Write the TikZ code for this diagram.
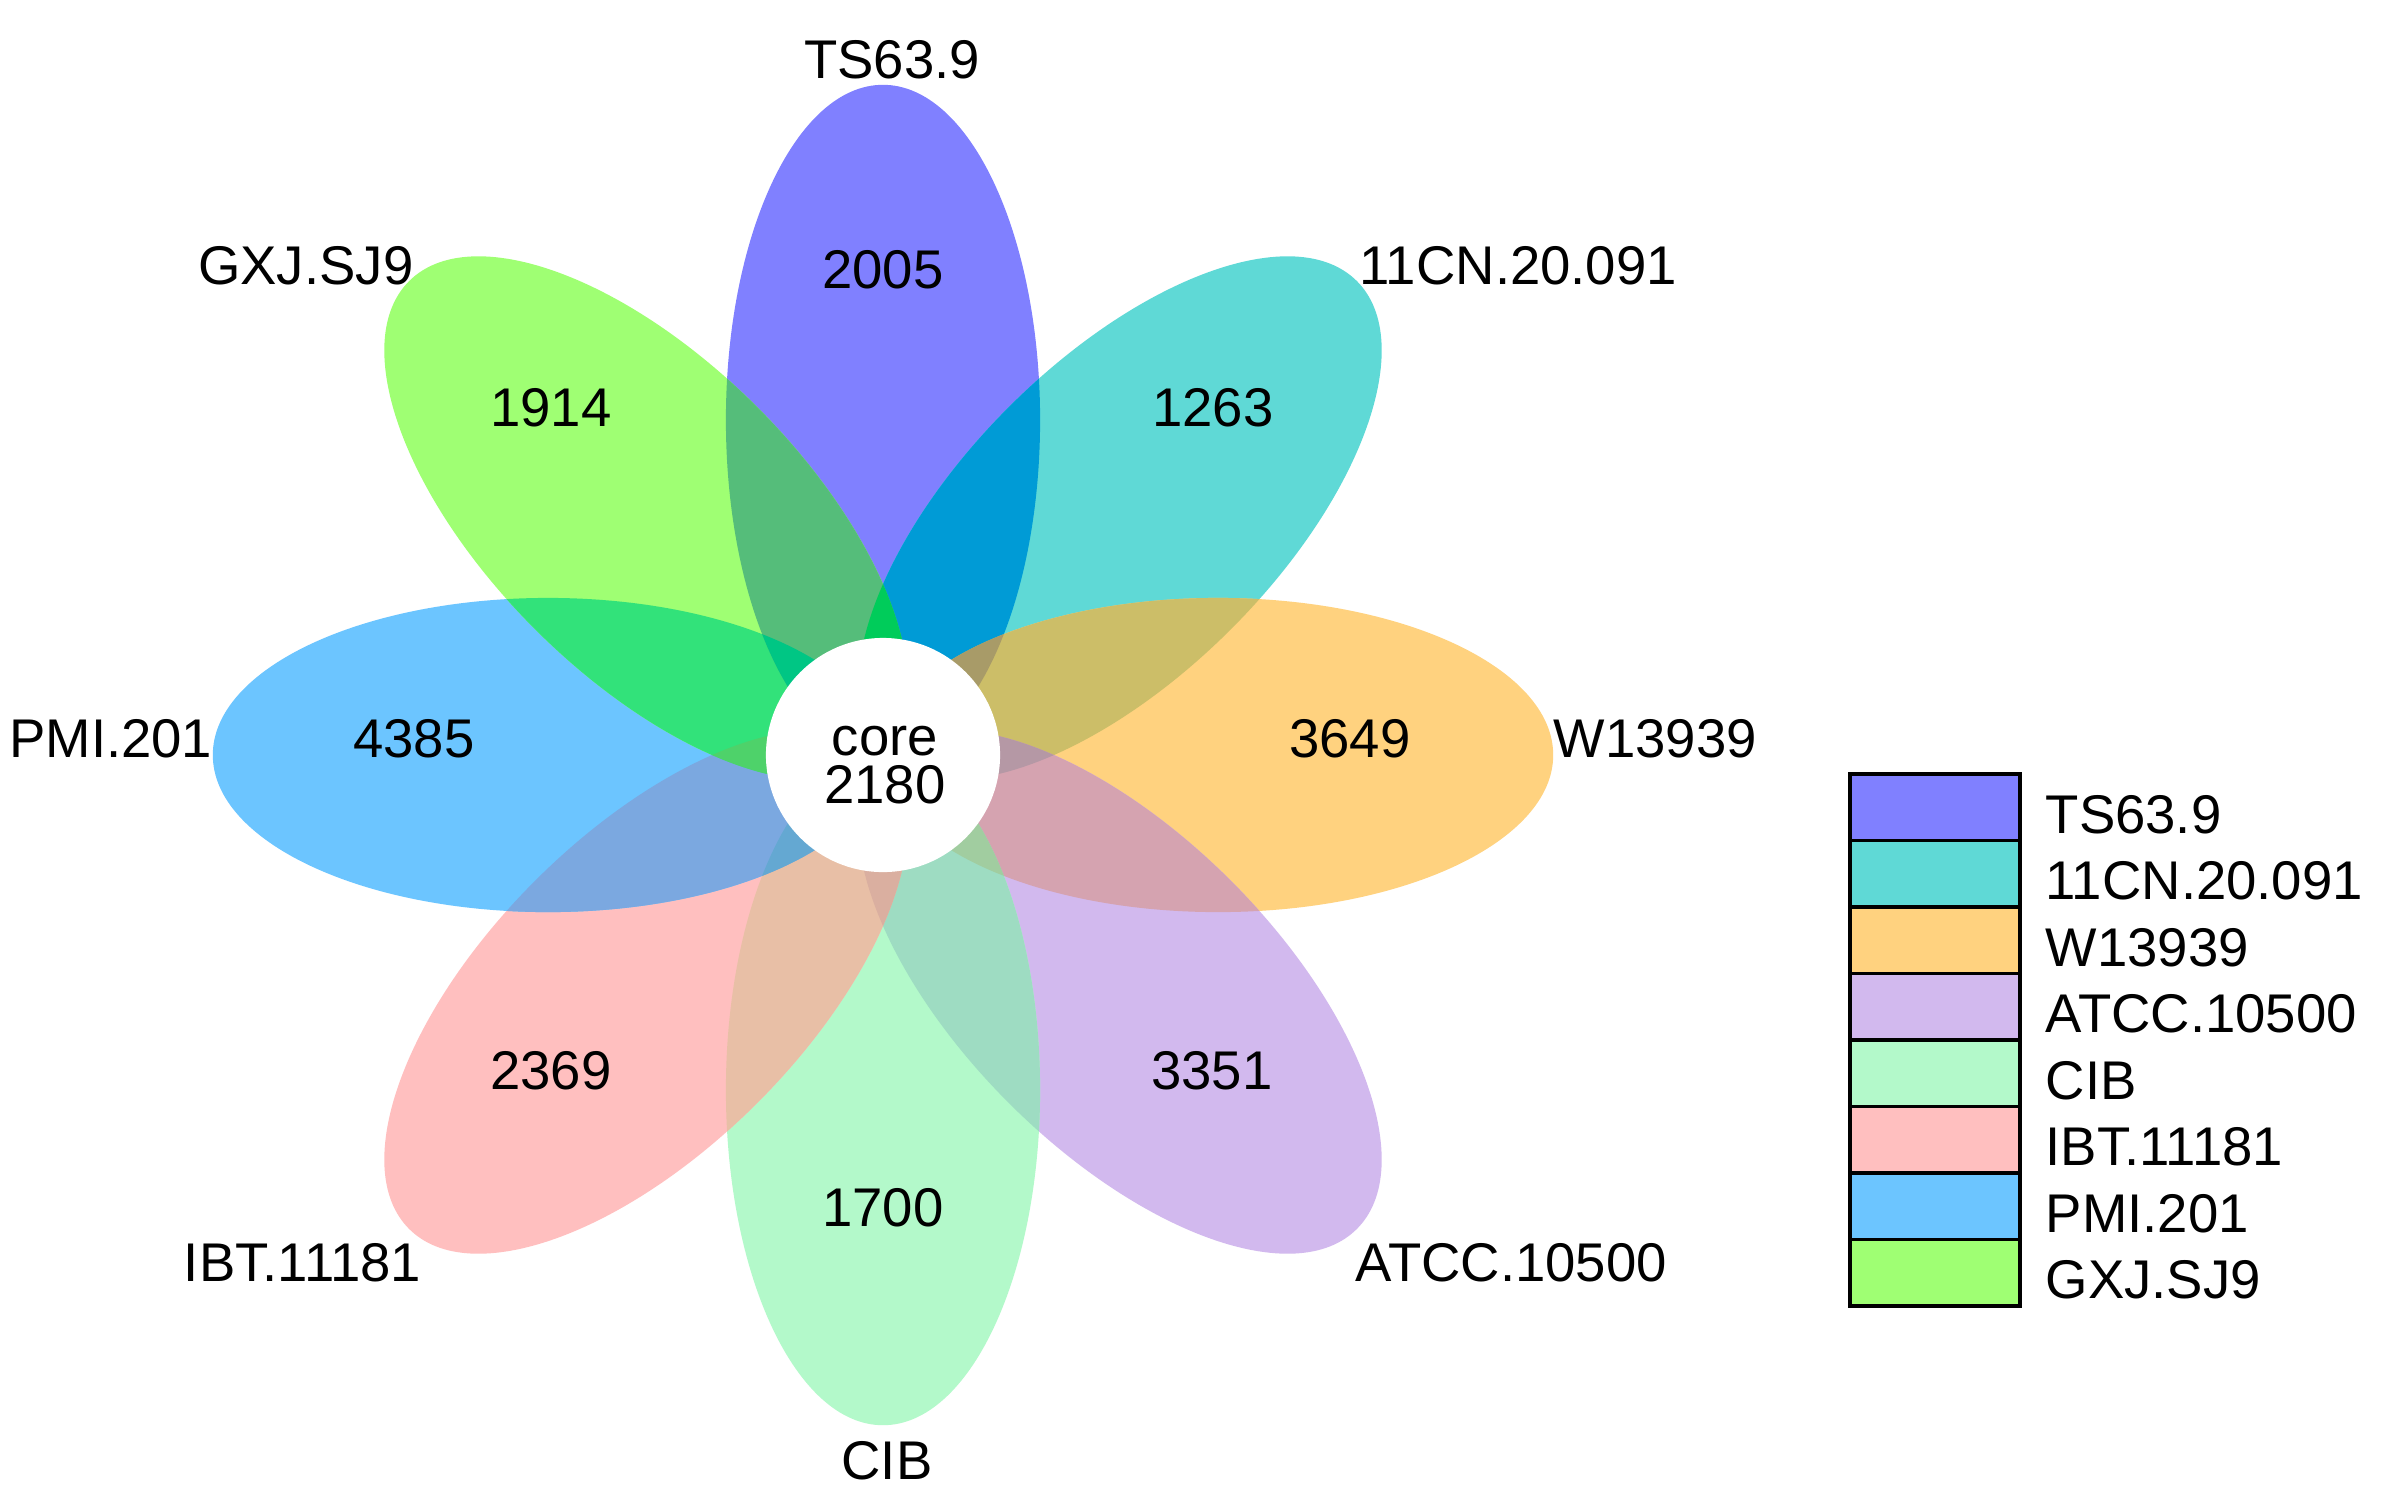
\documentclass[tikz,border=0pt]{standalone}
\usepackage{fontspec}
\setmainfont{Liberation Sans}
% single colours
\definecolor{cTS}{HTML}{8080FF}
\definecolor{cCN}{HTML}{5FD9D6}
\definecolor{cW}{HTML}{FFD27F}
\definecolor{cAT}{HTML}{D2B9EE}
\definecolor{cCI}{HTML}{B3F9CA}
\definecolor{cIB}{HTML}{FFBFBF}
\definecolor{cPM}{HTML}{6CC5FF}
\definecolor{cGX}{HTML}{9FFF73}
% two-petal overlaps
\definecolor{pTSCN}{HTML}{009BD6}
\definecolor{pCNW}{HTML}{CCBE68}
\definecolor{pWAT}{HTML}{D5A3B0}
\definecolor{pATCI}{HTML}{9EDCC2}
\definecolor{pCIIB}{HTML}{E8BFA6}
\definecolor{pIBPM}{HTML}{7BA8E0}
\definecolor{pPMGX}{HTML}{32E27A}
\definecolor{pGXTS}{HTML}{55BD7A}
% three-petal overlaps (named by middle petal)
\definecolor{tTS}{HTML}{00CC5A}
\definecolor{tCN}{HTML}{A89B68}
\definecolor{tW}{HTML}{B598A5}
\definecolor{tAT}{HTML}{A1CDA0}
\definecolor{tCI}{HTML}{DAAFA0}
\definecolor{tIB}{HTML}{64A8D2}
\definecolor{tPM}{HTML}{4ED26A}
\definecolor{tGX}{HTML}{00C684}
\newcommand\petal[1]{[rotate around={#1:(883,755)}] (1218,755) ellipse [x radius=3.35cm, y radius=1.57cm]}
\newcommand\overlap[3]{\begin{scope}\clip \petal{#1};\fill[#3] \petal{#2};\end{scope}}
\begin{document}
\begin{tikzpicture}[x=0.01cm,y=-0.01cm,
  txt/.style={font=\fontsize{15.5}{18}\selectfont, inner sep=0pt, text=black},
  legbox/.style={draw=black, line width=1pt}]
\useasboundingbox (0,0) rectangle (2387,1502);
\fill[white] (0,0) rectangle (2387,1502);
% petals
\fill[cTS] \petal{90};
\fill[cCN] \petal{45};
\fill[cW]  \petal{0};
\fill[cAT] \petal{-45};
\fill[cCI] \petal{-90};
\fill[cIB] \petal{-135};
\fill[cPM] \petal{180};
\fill[cGX] \petal{135};
% adjacent overlaps
\overlap{90}{45}{pTSCN}
\overlap{45}{0}{pCNW}
\overlap{0}{-45}{pWAT}
\overlap{-45}{-90}{pATCI}
\overlap{-90}{-135}{pCIIB}
\overlap{-135}{180}{pIBPM}
\overlap{180}{135}{pPMGX}
\overlap{135}{90}{pGXTS}
% overlaps of petals 90 degrees apart
\overlap{135}{45}{tTS}
\overlap{90}{0}{tCN}
\overlap{45}{-45}{tW}
\overlap{0}{-90}{tAT}
\overlap{-45}{-135}{tCI}
\overlap{-90}{180}{tIB}
\overlap{-135}{135}{tPM}
\overlap{180}{90}{tGX}
% core
\fill[white] (883,755) circle [radius=1.17cm];
\node[txt, font=\fontsize{15.5}{13.6}\selectfont, align=center, anchor=south] (core) at (885,805) {core\\2180};
% petal labels
\node[txt, anchor=base] (lTS) at (892,78) {TS63.9};
\node[txt, anchor=base west] (lCN) at (1359,284) {11CN.20.091};
\node[txt, anchor=base west] (lW) at (1553,757) {W13939};
\node[txt, anchor=base west] (lAT) at (1355,1281) {ATCC.10500};
\node[txt, anchor=base] (lCI) at (887,1479) {CIB};
\node[txt, anchor=base east] (lIB) at (422,1281) {IBT.11181};
\node[txt, anchor=base east] (lPM) at (213,757) {PMI.201};
\node[txt, anchor=base east] (lGX) at (414,284) {GXJ.SJ9};
% counts
\node[txt, anchor=base] (nTS) at (883,288) {2005};
\node[txt, anchor=base] (nCN) at (1213,426) {1263};
\node[txt, anchor=base] (nW) at (1350,757) {3649};
\node[txt, anchor=base] (nAT) at (1212,1089) {3351};
\node[txt, anchor=base] (nCI) at (883,1226) {1700};
\node[txt, anchor=base] (nIB) at (551,1089) {2369};
\node[txt, anchor=base] (nPM) at (414,757) {4385};
\node[txt, anchor=base] (nGX) at (551,426) {1914};
% legend
\foreach \c/\t [count=\i from 0] in {cTS/TS63.9, cCN/11CN.20.091, cW/W13939, cAT/ATCC.10500, cCI/CIB, cIB/IBT.11181, cPM/PMI.201, cGX/GXJ.SJ9}{
  \pgfmathsetmacro\top{774+66.5*\i}
  \draw[legbox, fill=\c] (1850,\top) rectangle (2020,\top+66.5);
  \node[txt, anchor=base west] (leg\i) at (2045,\top+59) {\t};
}
\end{tikzpicture}
\end{document}
